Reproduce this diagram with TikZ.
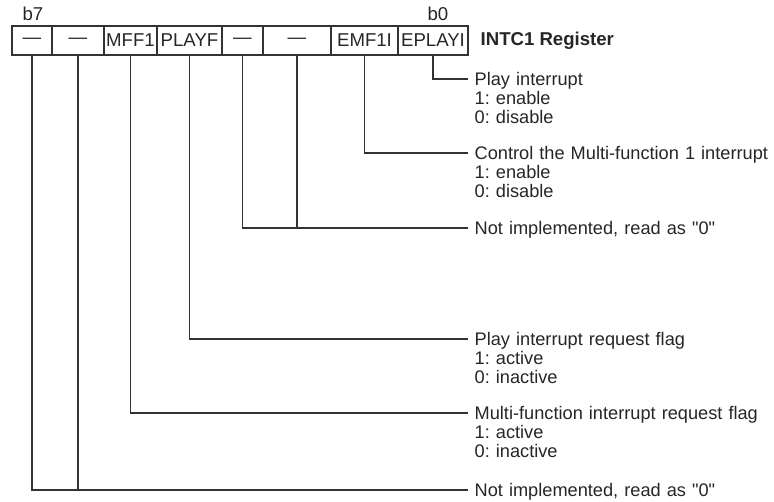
\documentclass[tikz,border=0pt]{standalone}
\usepackage{fontspec}
\setmainfont{Liberation Sans}[Ligatures=TeXOff]
\begin{document}
\frenchspacing
\begin{tikzpicture}[x=1pt,y=-1pt,
  line width=1.3pt,
  every node/.style={font=\fontsize{18.6}{19}\selectfont, text=black!85},
  cell/.style={draw=black!80, minimum height=29, inner sep=0pt, outer sep=0pt, anchor=center},
  lbl/.style={anchor=base west, align=left, text width=296, inner sep=0pt,
    font=\fontsize{18.2}{19}\selectfont},
  wire/.style={draw=black!80, line width=1.3pt}
]
\useasboundingbox (0,0) rectangle (774,501);

% bit labels
\node[anchor=base west, inner sep=0pt] (b7) at (22,20) {b7};
\node[anchor=base west, inner sep=0pt] (b0) at (427,20) {b0};

% register cells, b7 ... b0
\node[cell, minimum width=40] (c7) at (32,40.5) {—};
\node[cell, minimum width=52] (c6) at (78,40.5) {—};
\node[cell, minimum width=53] (c5) at (130.5,40.5) {MFF1};
\node[cell, minimum width=65] (c4) at (189.5,40.5) {PLAYF};
\node[cell, minimum width=41] (c3) at (242.5,40.5) {—};
\node[cell, minimum width=68] (c2) at (297,40.5) {—};
\node[cell, minimum width=67] (c1) at (364.5,40.5) {EMF1I};
\node[cell, minimum width=70] (c0) at (433,40.5) {EPLAYI};

\node[anchor=west, inner sep=0pt, font=\fontsize{18.6}{19}\selectfont\bfseries] (title) at (480,40.5) {INTC1 Register};

% descriptions
\node[lbl] (l0) at (474,85.5) {Play interrupt\\1: enable\\0: disable};
\node[lbl] (l1) at (474,159.5) {\mbox{Control the Multi-function 1 interrupt}\\1: enable\\0: disable};
\node[lbl] (l23) at (474,234.5) {Not implemented, read as "0"};
\node[lbl] (l4) at (474,345.5) {Play interrupt request flag\\1: active\\0: inactive};
\node[lbl] (l5) at (474,419.5) {\mbox{Multi-function interrupt request flag}\\1: active\\0: inactive};
\node[lbl] (l67) at (474,496.5) {Not implemented, read as "0"};

% connector end points, just left of each description
\coordinate (e0) at (468,79);
\coordinate (e1) at (468,153);
\coordinate (e23) at (468,228);
\coordinate (e4) at (468,339);
\coordinate (e5) at (468,413);
\coordinate (e67) at (468,490);

% connectors
\draw[wire] (c0.south) |- (e0);
\draw[wire] (c1.south) |- (e1);
\draw[wire] (c2.south) |- (e23);
\draw[wire] (c3.south) |- (e23);
\draw[wire] (c4.south) |- (e4);
\draw[wire] (c5.south) |- (e5);
\draw[wire] (c6.south) |- (e67);
\draw[wire] (c7.south) |- (e67);
\end{tikzpicture}
\end{document}
